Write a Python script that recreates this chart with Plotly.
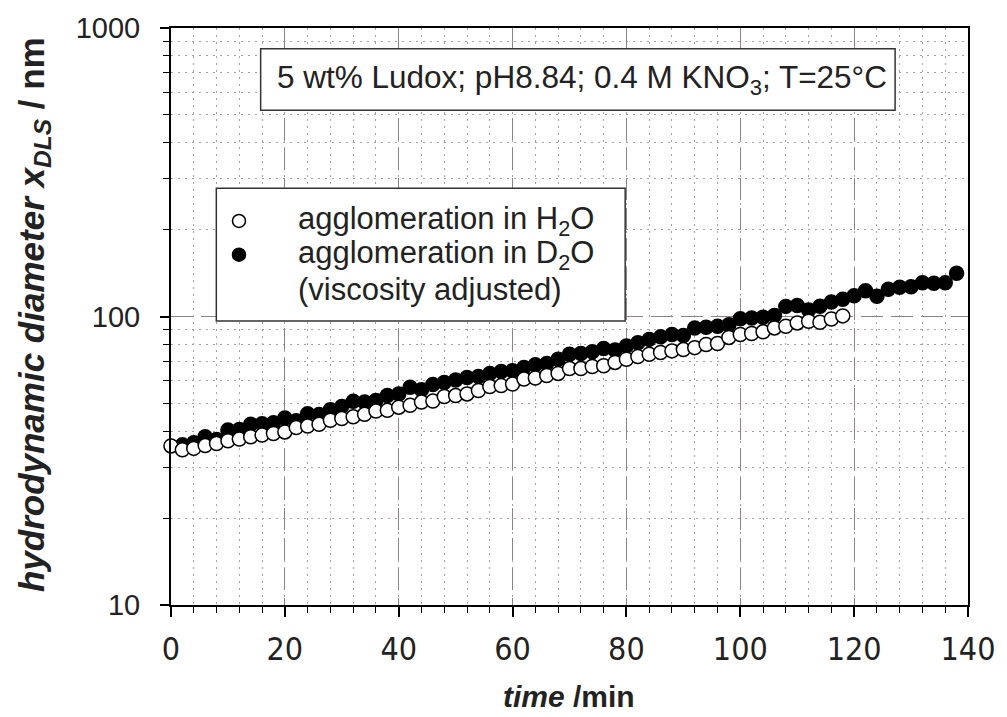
import plotly.graph_objects as go

# ---------------- data ----------------
time_h2o = [0, 2, 4, 6, 8, 10, 12, 14, 16, 18, 20, 22, 24, 26, 28, 30, 32, 34, 36, 38,
            40, 42, 44, 46, 48, 50, 52, 54, 56, 58, 60, 62, 64, 66, 68, 70, 72, 74, 76, 78,
            80, 82, 84, 86, 88, 90, 92, 94, 96, 98, 100, 102, 104, 106, 108, 110, 112, 114, 116, 118]
d_h2o = [35.6, 34.5, 34.9, 35.7, 36.3, 37.1, 37.6, 38.3, 38.8, 39.3, 39.8, 41.2, 41.7, 42.3, 43.7,
         44.3, 44.9, 45.8, 47.0, 47.3, 48.5, 49.2, 50.5, 50.9, 52.8, 53.2, 53.9, 55.4, 57.2, 57.6,
         58.3, 60.7, 61.2, 62.4, 63.5, 66.0, 66.0, 67.1, 67.5, 69.3, 71.1, 72.6, 74.0, 75.0, 76.0,
         76.8, 78.0, 80.0, 80.6, 84.6, 86.6, 87.3, 88.5, 91.3, 92.5, 95.0, 96.3, 95.5, 98.0, 100.5]

time_d2o = [2, 4, 6, 8, 10, 12, 14, 16, 18, 20, 22, 24, 26, 28, 30, 32, 34, 36, 38, 40,
            42, 44, 46, 48, 50, 52, 54, 56, 58, 60, 62, 64, 66, 68, 70, 72, 74, 76, 78, 80,
            82, 84, 86, 88, 90, 92, 94, 96, 98, 100, 102, 104, 106, 108, 110, 112, 114, 116, 118, 120,
            122, 124, 126, 128, 130, 132, 134, 136, 138]
d_d2o = [35.9, 36.5, 38.3, 37.5, 40.4, 40.6, 42.3, 42.5, 42.8, 44.5, 43.5, 46.0, 45.7, 47.5, 48.8,
         50.8, 50.5, 51.2, 53.2, 53.9, 56.9, 55.7, 58.1, 59.1, 60.2, 61.5, 61.9, 63.5, 64.5, 64.9,
         66.6, 68.0, 68.7, 71.1, 74.0, 74.4, 75.5, 77.4, 76.6, 79.0, 81.1, 83.3, 85.0, 86.6, 85.9,
         91.3, 91.8, 92.5, 93.7, 98.3, 98.8, 99.4, 100.8, 108.4, 109.1, 105.3, 108.6, 112.3, 114.8, 118.0,
         122.8, 117.6, 124.3, 126.2, 126.9, 131.0, 130.3, 131.0, 141.3]

x_tick_vals = [0, 20, 40, 60, 80, 100, 120, 140]
y_tick_vals = [10, 100, 1000]
y_minor_vals = [20, 30, 40, 50, 60, 70, 80, 90, 200, 300, 400, 500, 600, 700, 800, 900]

legend_labels = ["agglomeration in H<sub>2</sub>O",
                 "agglomeration in D<sub>2</sub>O",
                 "(viscosity adjusted)"]
info_text = "5 wt% Ludox; pH8.84; 0.4 M KNO<sub>3</sub>; T=25°C"

# ---------------- figure ----------------
fig = go.Figure()
fig.add_trace(go.Scatter(x=time_d2o, y=d_d2o, mode="markers", cliponaxis=False,
                         marker=dict(size=14, color="black", line=dict(color="black", width=1.5))))
fig.add_trace(go.Scatter(x=time_h2o, y=d_h2o, mode="markers", cliponaxis=False,
                         marker=dict(size=14, color="white", line=dict(color="black", width=1.5))))

major_grid = "#8c8484"
minor_grid = "#a8a0a0"
narrow = "Liberation Sans Narrow, Arial Narrow, DejaVu Sans Condensed, Arial, sans-serif"
sans = "Arial, Liberation Sans, sans-serif"

fig.update_xaxes(range=[0, 140], tickvals=x_tick_vals, ticks="outside", ticklen=10, tickwidth=1.5,
                 tickcolor="black", showline=True, linecolor="black", linewidth=2, mirror=True,
                 showgrid=True, gridcolor=major_grid, gridwidth=1, griddash="22px,8px",
                 zeroline=False, ticklabelstandoff=5, ticklabeloverflow="allow",
                 tickfont=dict(family=narrow, size=32, color="#222"),
                 minor=dict(dtick=4, tick0=0, ticks="outside", ticklen=6, tickwidth=1.2,
                            tickcolor="black", showgrid=True, gridcolor=minor_grid,
                            gridwidth=1, griddash="2px,5px"))
fig.update_yaxes(type="log", range=[1, 3], tickvals=y_tick_vals, ticks="outside", ticklen=9,
                 tickwidth=1.5, tickcolor="black", showline=True, linecolor="black", linewidth=2,
                 mirror=True, showgrid=True, gridcolor=major_grid, gridwidth=1, griddash="22px,8px",
                 zeroline=False, ticklabelstandoff=14, ticklabeloverflow="allow",
                 tickfont=dict(family=sans, size=29, color="#222"),
                 minor=dict(tickvals=y_minor_vals, ticks="outside", ticklen=6, tickwidth=1.2,
                            tickcolor="black", showgrid=True, gridcolor=minor_grid,
                            gridwidth=1, griddash="2px,5px"))

L, R, T, B = 171, 27, 22, 112
W, H = 1007, 717
pw, ph = W - L - R, H - T - B


def px(x):
    return (x - L) / pw


def py(y):
    return (H - B - y) / ph


shapes = [
    dict(type="rect", xref="paper", yref="paper", x0=px(262), x1=px(906), y0=py(105), y1=py(43),
         line=dict(color="#333", width=1.5), fillcolor="white", layer="above"),
    dict(type="rect", xref="paper", yref="paper", x0=px(217), x1=px(632), y0=py(318), y1=py(184),
         line=dict(color="#333", width=1.5), fillcolor="white", layer="above"),
    dict(type="circle", xref="paper", yref="paper", xsizemode="pixel", ysizemode="pixel",
         xanchor=px(240), yanchor=py(217), x0=-6.5, x1=6.5, y0=-6.5, y1=6.5,
         line=dict(color="black", width=1.5), fillcolor="white", layer="above"),
    dict(type="circle", xref="paper", yref="paper", xsizemode="pixel", ysizemode="pixel",
         xanchor=px(240), yanchor=py(251), x0=-6.5, x1=6.5, y0=-6.5, y1=6.5,
         line=dict(color="black", width=1.5), fillcolor="black", layer="above"),
]

font_main = dict(family=sans, size=31, color="#222")
annotations = [
    dict(x=px(588), y=py(74), xref="paper", yref="paper", text=info_text, showarrow=False,
         font=dict(family=sans, size=31.5, color="#222"), xanchor="center", yanchor="middle"),
    dict(x=px(298), y=py(217), xref="paper", yref="paper", text=legend_labels[0], showarrow=False,
         font=font_main, xanchor="left", yanchor="middle"),
    dict(x=px(298), y=py(251), xref="paper", yref="paper", text=legend_labels[1], showarrow=False,
         font=font_main, xanchor="left", yanchor="middle"),
    dict(x=px(298), y=py(286), xref="paper", yref="paper", text=legend_labels[2], showarrow=False,
         font=font_main, xanchor="left", yanchor="middle"),
    dict(x=px(575), y=py(697), xref="paper", yref="paper", text="<b><i>time</i> /min</b>",
         showarrow=False, font=dict(family=sans, size=30, color="#222"),
         xanchor="center", yanchor="middle"),
    dict(x=px(32), y=py(312), xref="paper", yref="paper",
         text="<b><i>hydrodynamic diameter x<sub>DLS</sub></i> / nm</b>", textangle=-90,
         showarrow=False, font=dict(family=sans, size=35, color="#222"),
         xanchor="center", yanchor="middle"),
]

fig.update_layout(width=W, height=H, margin=dict(l=L, r=R, t=T, b=B), showlegend=False,
                  plot_bgcolor="white", paper_bgcolor="white",
                  font=dict(family=sans),
                  shapes=shapes, annotations=annotations)

fig.write_html("out.html")
